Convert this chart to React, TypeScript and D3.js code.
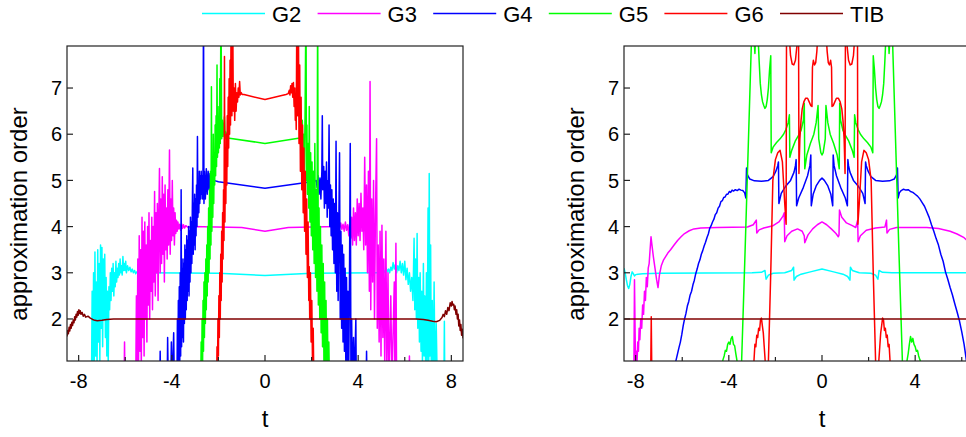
import React, { useEffect, useRef } from 'react';
import * as d3 from 'd3';

type Pt = [number, number];

// legend
const seriesNames = ['G2', 'G3', 'G4', 'G5', 'G6', 'TIB'];
const seriesColors = ['#00ffff', '#ff00ff', '#0000ff', '#00ff00', '#ff0000', '#800000'];

// axes
const tRange: [number, number] = [-8.5, 8.5];
const orderRange: [number, number] = [1.09, 7.91];
const tTicks = [-8, -4, 0, 4, 8];
const tMinorTicks = [-6, -2, 2, 6];
const orderTicks = [2, 3, 4, 5, 6, 7];

// ---- left panel (A) ----
const tibA: Pt[] = [
  [-8.5, 1.62], [-8.47, 1.75], [-8.44, 1.68], [-8.41, 1.82], [-8.38, 1.74], [-8.35, 1.88], [-8.32, 1.8],
  [-8.29, 1.93], [-8.26, 1.86], [-8.23, 1.98], [-8.2, 1.92], [-8.17, 2.05], [-8.14, 1.98], [-8.11, 2.1],
  [-8.08, 2.04], [-8.05, 2.16], [-8.02, 2.08], [-7.99, 2.2], [-7.96, 2.12], [-7.93, 2.18], [-7.9, 2.1],
  [-7.85, 2.14], [-7.8, 2.06], [-7.75, 2.1], [-7.7, 2.04], [-7.6, 2.06], [-7.5, 2.02], [-7.4, 1.99],
  [-7.3, 1.97], [-7.2, 1.96], [-7.0, 1.97], [-6.8, 1.99], [-6.5, 2.0], [6.5, 2.0], [6.8, 1.99], [7.0, 1.97],
  [7.2, 1.95], [7.35, 1.94], [7.5, 1.97], [7.6, 2.03], [7.65, 2.1], [7.7, 2.05], [7.75, 2.18], [7.8, 2.1],
  [7.85, 2.25], [7.9, 2.18], [7.95, 2.35], [8.0, 2.28], [8.03, 2.38], [8.06, 2.3], [8.1, 2.32], [8.13, 2.2],
  [8.16, 2.28], [8.2, 2.1], [8.23, 2.2], [8.26, 2.0], [8.29, 2.1], [8.32, 1.85], [8.35, 1.98], [8.38, 1.75],
  [8.41, 1.88], [8.44, 1.65], [8.47, 1.78], [8.5, 1.58],
];

const g2A: Pt[] = [
  [-7.45, 0.5], [-7.42, 2.6], [-7.39, 0.8], [-7.36, 3.0], [-7.33, 1.0], [-7.3, 3.45], [-7.27, 1.2], [-7.24, 2.8],
  [-7.21, 0.9], [-7.18, 3.5], [-7.15, 1.5], [-7.12, 3.2], [-7.09, 1.1], [-7.06, 3.6], [-7.03, 1.8], [-7.0, 3.55],
  [-6.97, 1.4], [-6.94, 3.3], [-6.91, 2.0], [-6.88, 3.4], [-6.85, 1.6], [-6.82, 2.9], [-6.79, 1.2], [-6.76, 2.6],
  [-6.73, 1.0], [-6.7, 2.7], [-6.67, 2.2], [-6.64, 3.0], [-6.61, 2.4], [-6.58, 3.1], [-6.55, 2.6], [-6.52, 3.2],
  [-6.49, 2.5], [-6.46, 3.0], [-6.43, 2.7], [-6.4, 3.25], [-6.37, 2.8], [-6.34, 3.1], [-6.31, 2.9], [-6.28, 3.2],
  [-6.25, 2.95], [-6.22, 3.3], [-6.19, 3.0], [-6.16, 3.15], [-6.13, 2.95], [-6.1, 3.35], [-6.07, 3.05],
  [-6.04, 3.2], [-6.01, 3.05], [-5.98, 3.25], [-5.95, 3.0], [-5.9, 3.15], [-5.85, 3.05], [-5.8, 3.12],
  [-5.75, 3.02], [-5.7, 3.08], [-5.65, 3.0], [-5.6, 3.05], [-5.55, 2.98], [-5.5, 3.02], [-5.4, 3.0], [-5.2, 3.0],
  [-2.0, 2.99], [0, 2.94], [2.0, 2.99], [4.9, 3.0],
  [5.0, 3.0], [5.1, 3.05], [5.15, 3.0], [5.2, 3.1], [5.25, 3.02], [5.3, 3.08], [5.35, 3.0], [5.4, 3.12],
  [5.45, 3.05], [5.5, 3.22], [5.55, 3.08], [5.6, 3.18], [5.65, 3.0], [5.7, 3.15], [5.75, 3.05], [5.8, 3.25],
  [5.85, 3.0], [5.9, 3.2], [5.95, 2.95], [6.0, 3.25], [6.05, 2.85], [6.1, 3.1], [6.15, 2.75], [6.2, 3.0],
  [6.25, 2.6], [6.3, 2.9], [6.35, 2.4], [6.4, 3.75], [6.43, 2.2], [6.46, 3.3], [6.5, 2.0], [6.53, 3.85],
  [6.56, 1.8], [6.6, 2.9], [6.63, 1.5], [6.66, 3.0], [6.7, 1.3], [6.73, 2.6], [6.76, 1.0], [6.8, 3.2],
  [6.83, 1.2], [6.86, 2.5], [6.9, 0.8], [6.93, 3.0], [6.96, 1.0], [7.0, 4.4], [7.03, 0.9], [7.05, 5.15],
  [7.08, 1.2], [7.11, 3.6], [7.14, 0.8], [7.18, 2.4], [7.22, 0.6], [7.26, 2.8], [7.3, 0.5], [7.35, 1.9],
  [7.4, 0.5], [7.68, 0.5], [7.7, 1.95], [7.72, 0.5],
];

const g3A: Pt[] = [
  [-6.05, 0.5], [-6.03, 1.5], [-6.01, 0.5], [-5.55, 0.5], [-5.52, 2.5], [-5.49, 0.8], [-5.46, 3.3], [-5.43, 1.0],
  [-5.4, 3.8], [-5.37, 1.3], [-5.34, 3.5], [-5.31, 0.9], [-5.28, 4.2], [-5.25, 1.6], [-5.22, 3.9], [-5.19, 1.2],
  [-5.16, 4.1], [-5.13, 2.0], [-5.1, 3.6], [-5.07, 1.5], [-5.04, 4.0], [-5.01, 2.3], [-4.98, 4.3], [-4.95, 2.0],
  [-4.92, 3.7], [-4.89, 2.6], [-4.86, 4.2], [-4.83, 2.2], [-4.8, 4.0], [-4.77, 2.8], [-4.74, 4.76], [-4.71, 2.5],
  [-4.68, 4.3], [-4.65, 3.0], [-4.62, 4.5], [-4.59, 2.4], [-4.56, 4.1], [-4.53, 5.26], [-4.5, 3.0], [-4.47, 4.6],
  [-4.44, 3.2], [-4.41, 5.08], [-4.38, 3.4], [-4.35, 4.7], [-4.32, 2.8], [-4.29, 4.9], [-4.26, 3.5], [-4.23, 4.4],
  [-4.2, 3.3], [-4.17, 4.8], [-4.14, 3.6], [-4.1, 5.66], [-4.07, 3.4], [-4.04, 4.6], [-4.01, 3.7], [-3.98, 5.0],
  [-3.95, 3.8], [-3.92, 4.4], [-3.89, 3.6], [-3.86, 4.3], [-3.83, 3.85], [-3.8, 4.14], [-3.77, 3.9], [-3.74, 4.1],
  [-3.7, 3.95], [-3.66, 4.05], [-3.62, 3.92], [-3.58, 4.06], [-3.54, 3.96], [-3.5, 4.04], [-3.45, 3.97],
  [-3.4, 4.02], [-3.3, 3.98], [-3.2, 4.0], [-1.0, 3.98], [0, 3.9], [1.0, 3.98], [3.1, 4.0],
  [3.15, 4.06], [3.2, 3.96], [3.25, 4.08], [3.3, 3.94], [3.35, 4.05], [3.4, 3.9], [3.45, 4.1], [3.5, 3.92],
  [3.55, 4.04], [3.6, 3.8], [3.64, 4.1], [3.68, 3.75], [3.72, 4.2], [3.76, 3.6], [3.8, 4.4], [3.84, 3.7],
  [3.88, 4.3], [3.92, 3.6], [3.96, 4.6], [4.0, 3.8], [4.04, 4.5], [4.08, 3.7], [4.12, 4.72], [4.16, 3.9],
  [4.2, 4.4], [4.24, 3.5], [4.28, 5.5], [4.32, 3.6], [4.36, 4.9], [4.4, 3.0], [4.44, 5.2], [4.48, 2.6],
  [4.51, 7.14], [4.54, 2.2], [4.58, 4.6], [4.62, 2.8], [4.66, 5.0], [4.7, 2.0], [4.74, 4.2], [4.79, 5.9],
  [4.82, 1.8], [4.86, 3.6], [4.9, 1.5], [4.94, 3.9], [4.98, 1.2], [5.02, 4.03], [5.06, 1.6], [5.1, 3.3],
  [5.14, 1.0], [5.19, 3.9], [5.23, 0.8], [5.28, 3.0], [5.32, 0.6], [5.4, 2.5], [5.45, 0.6], [5.55, 2.8],
  [5.58, 0.5], [5.62, 3.64], [5.65, 0.5], [6.18, 0.5], [6.2, 1.2], [6.22, 0.5],
];

const g4A: Pt[] = [
  [-4.52, 0.5], [-4.5, 1.3], [-4.48, 0.5], [-4.2, 0.5], [-4.18, 1.6], [-4.15, 0.5], [-4.05, 0.5], [-4.02, 1.5],
  [-3.99, 0.5], [-3.92, 1.7], [-3.89, 0.5], [-3.78, 0.5], [-3.76, 2.0], [-3.74, 0.6], [-3.72, 2.4], [-3.7, 0.8],
  [-3.68, 2.7], [-3.66, 1.0], [-3.64, 3.0], [-3.62, 1.2], [-3.6, 4.8], [-3.58, 1.4], [-3.56, 3.1], [-3.54, 1.6],
  [-3.52, 3.3], [-3.5, 1.5], [-3.48, 3.2], [-3.46, 1.9], [-3.44, 3.6], [-3.42, 2.0], [-3.4, 3.5], [-3.38, 2.2],
  [-3.36, 3.8], [-3.34, 2.4], [-3.32, 3.7], [-3.3, 2.6], [-3.28, 4.0], [-3.26, 2.5], [-3.24, 3.9], [-3.22, 2.8],
  [-3.2, 4.2], [-3.18, 3.0], [-3.16, 4.1], [-3.14, 3.2], [-3.12, 4.4], [-3.1, 5.27], [-3.08, 3.4], [-3.06, 4.5],
  [-3.04, 3.6], [-3.02, 4.7], [-3.0, 3.5], [-2.98, 4.6], [-2.96, 3.8], [-2.94, 4.9], [-2.92, 4.0], [-2.9, 5.95],
  [-2.88, 4.2], [-2.86, 5.0], [-2.84, 4.3], [-2.82, 5.2], [-2.8, 4.5], [-2.78, 5.1], [-2.76, 4.6], [-2.74, 5.2],
  [-2.72, 4.7], [-2.7, 5.1], [-2.68, 4.6], [-2.66, 5.3], [-2.64, 9], [-2.62, 4.5], [-2.6, 5.2], [-2.56, 4.6],
  [-2.52, 5.25], [-2.48, 4.7], [-2.44, 5.2], [-2.4, 4.8], [-2.36, 5.15], [-2.32, 4.9], [-2.28, 5.05],
  [-2.24, 4.92], [-2.2, 5.0], [-2.0, 4.97], [0, 4.83], [2.0, 4.97],
  [2.1, 4.98], [2.2, 5.0], [2.24, 4.85], [2.28, 5.1], [2.32, 4.7], [2.36, 5.05], [2.4, 4.6], [2.44, 5.2],
  [2.46, 6.4], [2.48, 4.8], [2.52, 5.3], [2.55, 4.4], [2.58, 5.2], [2.61, 4.5], [2.64, 5.4], [2.67, 4.2],
  [2.7, 5.0], [2.72, 4.4], [2.75, 6.2], [2.78, 4.0], [2.81, 4.9], [2.84, 3.8], [2.87, 4.8], [2.9, 3.5],
  [2.93, 4.6], [2.96, 3.2], [2.99, 4.5], [3.02, 3.0], [3.05, 5.85], [3.08, 2.6], [3.11, 4.3], [3.14, 2.4],
  [3.17, 4.1], [3.2, 5.6], [3.23, 2.0], [3.26, 3.9], [3.29, 1.8], [3.32, 3.6], [3.35, 1.5], [3.38, 3.4],
  [3.41, 1.3], [3.44, 3.1], [3.47, 1.0], [3.5, 2.9], [3.53, 0.9], [3.56, 2.6], [3.59, 0.7], [3.62, 2.3],
  [3.66, 5.8], [3.69, 0.6], [3.72, 2.0], [3.75, 0.5], [3.8, 1.6], [3.83, 0.5], [3.9, 2.0], [3.92, 0.5],
  [4.34, 0.5], [4.36, 1.3], [4.38, 0.5],
];

const g5A: Pt[] = [
  [-2.76, 0.5], [-2.74, 1.5], [-2.72, 0.8], [-2.7, 2.0], [-2.68, 1.0], [-2.66, 2.4], [-2.64, 1.3], [-2.62, 2.8],
  [-2.6, 1.6], [-2.58, 3.0], [-2.56, 1.9], [-2.54, 3.3], [-2.52, 2.2], [-2.5, 3.6], [-2.48, 2.5], [-2.46, 4.0],
  [-2.44, 2.8], [-2.42, 4.4], [-2.4, 3.0], [-2.38, 4.8], [-2.36, 3.3], [-2.34, 5.2], [-2.32, 3.6], [-2.3, 7.03],
  [-2.28, 3.9], [-2.26, 5.5], [-2.24, 4.2], [-2.22, 6.0], [-2.2, 4.5], [-2.18, 5.6], [-2.16, 4.9], [-2.14, 6.2],
  [-2.12, 5.1], [-2.1, 6.4], [-2.08, 5.3], [-2.06, 7.5], [-2.04, 5.5], [-2.02, 6.6], [-2.0, 5.6], [-1.98, 6.3],
  [-1.96, 5.7], [-1.94, 7.2], [-1.92, 5.8], [-1.89, 9], [-1.86, 5.9], [-1.83, 6.3], [-1.8, 5.95], [-1.77, 6.15],
  [-1.74, 6.38], [-1.71, 5.9], [-1.68, 6.05], [-1.64, 5.93], [-1.6, 5.92], [0, 5.8], [1.5, 5.92],
  [1.54, 6.1], [1.57, 5.8], [1.6, 6.3], [1.63, 5.6], [1.66, 6.0], [1.69, 5.2], [1.72, 6.4], [1.76, 9],
  [1.78, 5.0], [1.8, 6.2], [1.82, 4.7], [1.85, 5.8], [1.88, 4.4], [1.9, 6.6], [1.93, 4.1], [1.96, 5.6],
  [1.99, 3.8], [2.02, 5.4], [2.05, 3.5], [2.08, 5.2], [2.11, 3.2], [2.14, 5.8], [2.17, 2.9], [2.2, 4.8],
  [2.23, 2.6], [2.26, 9], [2.29, 2.3], [2.32, 4.4], [2.35, 2.0], [2.38, 4.0], [2.41, 1.7], [2.44, 3.6],
  [2.47, 1.4], [2.5, 3.2], [2.53, 1.1], [2.56, 2.8], [2.59, 0.9], [2.62, 2.4], [2.65, 0.7], [2.68, 2.0],
  [2.71, 0.6], [2.74, 1.5], [2.77, 0.5],
];

const g6A: Pt[] = [
  [-2.08, 0.5], [-2.06, 1.4], [-2.04, 0.8], [-2.02, 2.0], [-2.0, 1.2], [-1.98, 2.5], [-1.96, 1.6], [-1.94, 3.0],
  [-1.92, 2.0], [-1.9, 3.4], [-1.88, 2.4], [-1.86, 3.9], [-1.84, 2.8], [-1.82, 4.3], [-1.8, 3.3], [-1.78, 4.8],
  [-1.76, 3.7], [-1.74, 7.68], [-1.72, 4.1], [-1.7, 5.5], [-1.68, 4.5], [-1.66, 6.0], [-1.64, 4.9], [-1.62, 6.4],
  [-1.6, 5.3], [-1.58, 6.8], [-1.56, 5.7], [-1.54, 7.2], [-1.52, 6.0], [-1.5, 7.6], [-1.48, 6.2], [-1.45, 9],
  [-1.42, 6.4], [-1.39, 9], [-1.36, 6.5], [-1.33, 7.0], [-1.3, 6.3], [-1.27, 7.1], [-1.24, 6.5], [-1.21, 6.9],
  [-1.18, 6.7], [-1.15, 7.0], [-1.12, 6.8], [-1.09, 7.14], [-1.06, 6.85], [-1.02, 6.9], [-0.98, 6.86],
  [-0.9, 6.86], [0, 6.75], [0.9, 6.86],
  [1.0, 6.88], [1.04, 6.95], [1.07, 6.85], [1.1, 7.05], [1.13, 6.9], [1.16, 7.1], [1.19, 6.8], [1.22, 7.12],
  [1.25, 6.6], [1.28, 7.0], [1.3, 6.3], [1.32, 6.8], [1.34, 6.1], [1.37, 9], [1.4, 6.4], [1.43, 9],
  [1.46, 5.8], [1.49, 7.5], [1.52, 5.2], [1.55, 6.8], [1.58, 4.8], [1.61, 6.2], [1.64, 4.3], [1.67, 5.7],
  [1.7, 3.9], [1.73, 5.2], [1.76, 3.4], [1.79, 4.6], [1.82, 2.9], [1.85, 4.1], [1.88, 2.4], [1.9, 3.13],
  [1.92, 2.0], [1.95, 3.0], [1.98, 1.5], [2.01, 2.4], [2.04, 1.0], [2.07, 1.8], [2.1, 0.5],
];

// ---- right panel (B) ----
const tibB: Pt[] = [[-8.5, 2.0], [8.5, 2.0]];

const g2B: Pt[] = [
  [-8.5, 3.1], [-8.45, 3.0], [-8.4, 2.85], [-8.35, 2.72], [-8.3, 2.66], [-8.25, 2.75], [-8.2, 2.92],
  [-8.15, 3.02], [-8.1, 2.98], [-8.05, 2.93], [-8.0, 2.96], [-7.9, 2.97], [-7.7, 2.98], [-7.0, 2.99],
  [-3.0, 3.0], [-2.6, 3.01], [-2.45, 3.05], [-2.4, 2.86], [-2.3, 2.95], [-2.1, 2.99], [-1.6, 3.0],
  [-1.3, 3.05], [-1.22, 3.12], [-1.2, 2.84], [-1.1, 2.92], [-0.9, 2.97], [-0.5, 3.02], [0, 3.08],
  [0.5, 3.02], [0.9, 2.97], [1.1, 2.92], [1.2, 2.84], [1.22, 3.12], [1.3, 3.05], [1.6, 3.0], [2.1, 2.99],
  [2.3, 2.95], [2.4, 2.86], [2.45, 3.05], [2.6, 3.01], [3.0, 3.0], [8.5, 3.0],
];

const g3B: Pt[] = [
  [-8.5, 0.5], [-8.08, 0.5], [-8.05, 2.85], [-8.02, 1.6], [-8.0, 0.8], [-7.97, 1.3], [-7.94, 1.05],
  [-7.91, 1.5], [-7.88, 1.3], [-7.85, 1.8], [-7.82, 1.55], [-7.78, 2.0], [-7.74, 1.8], [-7.7, 2.3],
  [-7.66, 2.1], [-7.62, 2.6], [-7.58, 2.4], [-7.54, 2.9], [-7.5, 2.7], [-7.46, 3.1], [-7.42, 3.2],
  [-7.38, 3.5], [-7.34, 3.78], [-7.3, 3.6], [-7.24, 3.35], [-7.17, 3.1], [-7.1, 2.85], [-7.04, 2.68],
  [-6.98, 2.95], [-6.9, 3.15], [-6.8, 3.28], [-6.7, 3.36], [-6.6, 3.44], [-6.5, 3.5], [-6.35, 3.6],
  [-6.2, 3.7], [-6.05, 3.78], [-5.9, 3.85], [-5.7, 3.91], [-5.5, 3.95], [-5.2, 3.97], [-4.5, 3.98],
  [-3.2, 3.99], [-2.95, 4.04], [-2.82, 4.14], [-2.8, 3.86], [-2.7, 3.93], [-2.5, 3.97], [-2.1, 4.02],
  [-1.85, 4.1], [-1.68, 4.22], [-1.62, 4.3], [-1.6, 3.67], [-1.5, 3.8], [-1.3, 3.9], [-1.05, 3.95],
  [-0.85, 3.9], [-0.76, 3.8], [-0.74, 3.65], [-0.6, 3.82], [-0.4, 3.95], [-0.2, 4.04], [0, 4.1],
  [0.2, 4.04], [0.4, 3.95], [0.6, 3.85], [0.7, 3.78], [0.73, 3.82], [0.75, 4.36], [0.85, 4.2],
  [1.05, 4.08], [1.3, 4.02], [1.45, 3.98], [1.53, 4.14], [1.55, 3.67], [1.65, 3.8], [1.9, 3.92],
  [2.3, 3.97], [2.7, 3.99], [2.77, 4.14], [2.79, 3.86], [2.9, 3.94], [3.2, 3.98], [4.5, 3.98], [5.0, 3.96],
  [5.5, 3.9], [5.8, 3.84], [6.1, 3.76], [6.4, 3.62],
];

const g4B: Pt[] = [
  [-6.32, 1.0], [-6.26, 1.12], [-6.2, 1.25], [-6.14, 1.38], [-6.08, 1.5], [-6.02, 1.66], [-5.96, 1.85],
  [-5.9, 2.0], [-5.84, 2.12], [-5.78, 2.28], [-5.72, 2.38], [-5.66, 2.52], [-5.6, 2.6], [-5.54, 2.74],
  [-5.48, 2.84], [-5.42, 2.98], [-5.36, 3.08], [-5.3, 3.2], [-5.24, 3.28], [-5.18, 3.4], [-5.12, 3.48],
  [-5.06, 3.58], [-5.0, 3.66], [-4.94, 3.76], [-4.88, 3.84], [-4.82, 3.96], [-4.76, 4.02], [-4.7, 4.1],
  [-4.64, 4.16], [-4.58, 4.26], [-4.52, 4.3], [-4.46, 4.4], [-4.4, 4.44], [-4.34, 4.54], [-4.28, 4.56],
  [-4.22, 4.63], [-4.16, 4.64], [-4.1, 4.7], [-4.04, 4.7], [-3.98, 4.76], [-3.92, 4.74], [-3.86, 4.79],
  [-3.8, 4.77], [-3.72, 4.8], [-3.64, 4.78], [-3.56, 4.81], [-3.48, 4.79], [-3.4, 4.78], [-3.32, 4.73],
  [-3.27, 4.62], [-3.24, 5.27], [-3.2, 5.12], [-3.1, 5.03], [-2.9, 4.99], [-2.6, 4.98], [-2.3, 5.0],
  [-2.1, 5.08], [-1.98, 5.2], [-1.9, 5.32], [-1.87, 5.4], [-1.85, 4.5], [-1.75, 4.72], [-1.55, 4.88],
  [-1.35, 5.0], [-1.2, 5.18], [-1.14, 5.32], [-1.11, 5.45], [-1.09, 4.45], [-1.0, 4.62], [-0.8, 4.85],
  [-0.62, 5.1], [-0.52, 5.32], [-0.48, 5.55], [-0.46, 4.45], [-0.38, 4.7], [-0.25, 4.88], [-0.1, 5.0],
  [0, 5.05], [0.1, 5.0], [0.25, 4.88], [0.38, 4.7], [0.46, 4.45], [0.48, 5.55], [0.52, 5.32], [0.62, 5.1],
  [0.8, 4.85], [1.0, 4.62], [1.09, 4.45], [1.11, 5.45], [1.14, 5.32], [1.2, 5.18], [1.35, 5.0], [1.55, 4.88],
  [1.75, 4.72], [1.85, 4.5], [1.87, 5.4], [1.9, 5.32], [1.98, 5.2], [2.1, 5.08], [2.3, 5.0], [2.6, 4.98],
  [2.9, 4.99], [3.1, 5.03], [3.2, 5.12], [3.24, 5.27], [3.27, 4.62], [3.32, 4.73], [3.4, 4.78], [3.5, 4.81],
  [3.6, 4.79], [3.7, 4.8], [3.8, 4.76], [3.9, 4.74], [4.0, 4.7], [4.1, 4.66], [4.2, 4.6], [4.3, 4.52],
  [4.4, 4.44], [4.5, 4.32], [4.6, 4.2], [4.7, 4.04], [4.8, 3.9], [4.9, 3.74], [5.0, 3.6], [5.1, 3.4],
  [5.2, 3.25], [5.3, 3.02], [5.4, 2.86], [5.5, 2.68], [5.6, 2.52], [5.7, 2.33], [5.8, 2.15], [5.9, 1.96],
  [6.0, 1.72], [6.1, 1.45], [6.2, 1.1], [6.3, 0.8],
];

const g5B: Pt[] = [
  [-4.35, 0.8], [-4.3, 1.0], [-4.25, 1.12], [-4.2, 1.2], [-4.15, 1.32], [-4.1, 1.3], [-4.05, 1.45],
  [-4.0, 1.5], [-3.95, 1.45], [-3.9, 1.58], [-3.85, 1.62], [-3.8, 1.45], [-3.75, 1.42], [-3.7, 1.25],
  [-3.65, 1.1], [-3.6, 0.8], [-3.5, 0.5], [-3.45, 1.1], [-3.3, 3.5], [-3.15, 6.0], [-3.0, 8.5],
  [-2.93, 8.2], [-2.88, 7.75], [-2.84, 8.3], [-2.8, 8.6], [-2.75, 8.2], [-2.7, 7.6], [-2.65, 7.1],
  [-2.6, 6.85], [-2.55, 6.7], [-2.5, 6.62], [-2.45, 6.56], [-2.4, 6.6], [-2.35, 6.75], [-2.3, 7.0],
  [-2.25, 7.4], [-2.2, 7.7], [-2.18, 5.6], [-2.1, 5.72], [-1.95, 5.82], [-1.8, 5.9], [-1.65, 6.0],
  [-1.55, 6.1], [-1.45, 6.25], [-1.4, 6.42], [-1.38, 5.5], [-1.3, 5.65], [-1.15, 5.85], [-1.0, 5.98],
  [-0.9, 6.08], [-0.8, 6.3], [-0.76, 6.67], [-0.74, 5.25], [-0.65, 5.55], [-0.5, 5.8], [-0.35, 6.0],
  [-0.25, 6.25], [-0.17, 6.62], [-0.14, 5.9], [-0.05, 5.6], [0, 5.55], [0.05, 5.6], [0.14, 5.9],
  [0.17, 6.62], [0.25, 6.25], [0.35, 6.0], [0.5, 5.8], [0.65, 5.55], [0.74, 5.25], [0.76, 6.67],
  [0.8, 6.3], [0.9, 6.08], [1.0, 5.98], [1.15, 5.85], [1.3, 5.65], [1.38, 5.5], [1.4, 6.42], [1.45, 6.25],
  [1.55, 6.1], [1.65, 6.0], [1.8, 5.9], [1.95, 5.82], [2.1, 5.72], [2.18, 5.6], [2.2, 7.7], [2.25, 7.4],
  [2.3, 7.0], [2.35, 6.75], [2.4, 6.6], [2.45, 6.56], [2.5, 6.62], [2.55, 6.7], [2.6, 6.85], [2.65, 7.1],
  [2.7, 7.6], [2.75, 8.2], [2.8, 8.6], [2.84, 8.3], [2.88, 7.75], [2.93, 8.2], [3.0, 8.5], [3.15, 6.0],
  [3.3, 3.5], [3.45, 1.1], [3.5, 0.5], [3.6, 0.8], [3.65, 1.1], [3.7, 1.25], [3.75, 1.45], [3.8, 1.62],
  [3.85, 1.5], [3.9, 1.58], [3.95, 1.45], [4.0, 1.4], [4.05, 1.3], [4.1, 1.32], [4.15, 1.2], [4.2, 1.12],
  [4.3, 1.0], [4.35, 0.8],
];

const g6B: Pt[] = [
  [-8.5, 0.5], [-7.36, 0.5], [-7.33, 2.05], [-7.3, 0.5], [-2.96, 0.5], [-2.92, 1.1], [-2.88, 1.45],
  [-2.84, 1.4], [-2.8, 1.65], [-2.76, 1.6], [-2.72, 1.8], [-2.68, 1.75], [-2.64, 1.98], [-2.6, 2.02],
  [-2.56, 1.85], [-2.52, 1.7], [-2.48, 1.4], [-2.44, 1.1], [-2.4, 0.6], [-2.36, 0.5], [-2.3, 1.1],
  [-2.2, 3.0], [-2.11, 5.0], [-2.0, 5.45], [-1.9, 5.6], [-1.8, 5.65], [-1.7, 5.4], [-1.6, 4.5],
  [-1.54, 4.05], [-1.52, 9], [-1.5, 9], [-1.42, 8.2], [-1.35, 7.7], [-1.28, 7.52], [-1.21, 7.5],
  [-1.14, 7.6], [-1.08, 7.9], [-1.04, 8.5], [-1.01, 9], [-0.99, 5.15], [-0.95, 5.9], [-0.9, 6.3],
  [-0.85, 6.55], [-0.78, 6.7], [-0.7, 6.78], [-0.62, 6.78], [-0.55, 6.7], [-0.48, 6.62], [-0.43, 6.6],
  [-0.41, 7.45], [-0.37, 7.6], [-0.32, 7.5], [-0.27, 7.55], [-0.22, 7.8], [-0.15, 8.4], [-0.07, 8.2],
  [0, 7.95], [0.07, 8.2], [0.15, 8.4], [0.22, 7.8], [0.27, 7.55], [0.32, 7.5], [0.37, 7.6], [0.41, 7.45],
  [0.43, 6.6], [0.48, 6.62], [0.55, 6.7], [0.62, 6.78], [0.7, 6.78], [0.78, 6.7], [0.85, 6.55], [0.9, 6.3],
  [0.95, 5.9], [0.99, 5.15], [1.01, 9], [1.04, 8.5], [1.08, 7.9], [1.14, 7.6], [1.21, 7.5], [1.28, 7.52],
  [1.35, 7.7], [1.42, 8.2], [1.5, 9], [1.52, 9], [1.54, 4.05], [1.6, 4.5], [1.7, 5.4], [1.8, 5.65],
  [1.9, 5.6], [2.0, 5.45], [2.11, 5.0], [2.2, 3.0], [2.3, 1.1], [2.36, 0.5], [2.4, 0.6], [2.44, 1.1],
  [2.48, 1.4], [2.52, 1.7], [2.56, 1.85], [2.6, 2.02], [2.64, 1.98], [2.68, 1.75], [2.72, 1.8], [2.76, 1.6],
  [2.8, 1.65], [2.84, 1.4], [2.88, 1.45], [2.92, 1.1], [2.96, 0.5], [8.5, 0.5],
];

const panels = [
  { id: 'a', left: 67, titleX: 27, series: [g2A, g3A, g4A, g5A, g6A, tibA] },
  { id: 'b', left: 624, titleX: 584, series: [g2B, g3B, g4B, g5B, g6B, tibB] },
];

const FONT = '"Liberation Sans", Arial, sans-serif';
const W = 966;
const H = 437;

const App = () => {
  const svgRef = useRef<SVGSVGElement>(null);

  useEffect(() => {
    const svg = d3.select(svgRef.current);
    svg.selectAll('*').remove();

    const top = 46;
    const height = 315;
    const width = 396;

    // legend across the top
    const legend = svg.append('g');
    seriesNames.forEach((name, i) => {
      const x0 = 202 + i * 115.6;
      legend.append('line')
        .attr('x1', x0).attr('x2', x0 + 63)
        .attr('y1', 13.5).attr('y2', 13.5)
        .attr('stroke', seriesColors[i]).attr('stroke-width', 1.5);
      legend.append('text')
        .attr('x', x0 + 70).attr('y', 21.5)
        .attr('font-size', 22).attr('font-family', FONT)
        .text(name);
    });

    panels.forEach(p => {
      const x = d3.scaleLinear().domain(tRange).range([p.left, p.left + width]);
      const y = d3.scaleLinear().domain(orderRange).range([top + height, top]);

      svg.append('clipPath').attr('id', `clip-${p.id}`)
        .append('rect')
        .attr('x', p.left).attr('y', top)
        .attr('width', width).attr('height', height);

      const line = d3.line<Pt>().x(d => x(d[0])).y(d => y(d[1]));

      const plot = svg.append('g').attr('clip-path', `url(#clip-${p.id})`);
      p.series.forEach((data, i) => {
        plot.append('path')
          .datum(data)
          .attr('d', line)
          .attr('fill', 'none')
          .attr('stroke', seriesColors[i])
          .attr('stroke-width', 1.5)
          .attr('stroke-linejoin', 'round');
      });

      // frame
      svg.append('rect')
        .attr('x', p.left).attr('y', top)
        .attr('width', width).attr('height', height)
        .attr('fill', 'none').attr('stroke', '#222').attr('stroke-width', 1.2);

      // y ticks (inward)
      orderTicks.forEach(v => {
        svg.append('line')
          .attr('x1', p.left).attr('x2', p.left + 6)
          .attr('y1', y(v)).attr('y2', y(v))
          .attr('stroke', '#222').attr('stroke-width', 1.2);
        svg.append('text')
          .attr('x', p.left - 5).attr('y', y(v)).attr('dy', '0.36em')
          .attr('text-anchor', 'end')
          .attr('font-size', 20).attr('font-family', FONT)
          .text(v);
      });

      // x ticks (inward); labels only where they fit in the picture
      tTicks.forEach(t => {
        svg.append('line')
          .attr('x1', x(t)).attr('x2', x(t))
          .attr('y1', top + height).attr('y2', top + height - 6)
          .attr('stroke', '#222').attr('stroke-width', 1.2);
        if (x(t) + 12 < W) {
          svg.append('text')
            .attr('x', x(t)).attr('y', 388)
            .attr('text-anchor', 'middle')
            .attr('font-size', 20).attr('font-family', FONT)
            .text(t);
        }
      });
      tMinorTicks.forEach(t => {
        svg.append('line')
          .attr('x1', x(t)).attr('x2', x(t))
          .attr('y1', top + height).attr('y2', top + height - 4)
          .attr('stroke', '#222').attr('stroke-width', 1.2);
      });

      // axis titles
      svg.append('text')
        .attr('x', x(0)).attr('y', 427)
        .attr('text-anchor', 'middle')
        .attr('font-size', 24).attr('font-family', FONT)
        .text('t');
      svg.append('text')
        .attr('transform', `translate(${p.titleX},${214}) rotate(-90)`)
        .attr('text-anchor', 'middle')
        .attr('font-size', 24).attr('font-family', FONT)
        .text('approximation order');
    });
  }, []);

  return (
    <svg
      ref={svgRef}
      width={W}
      height={H}
      style={{ position: 'absolute', left: 0, top: 0, background: '#fff' }}
    />
  );
};

export default App;
